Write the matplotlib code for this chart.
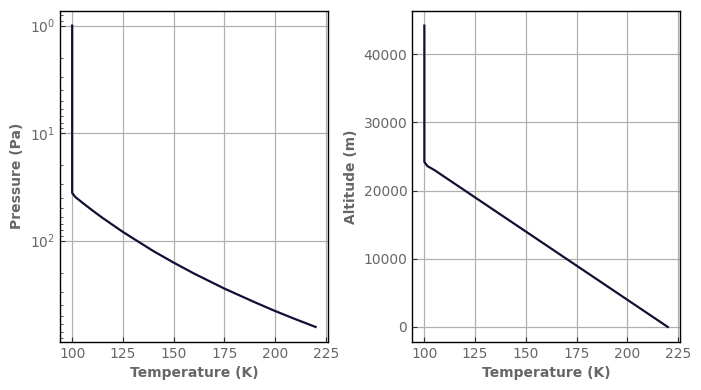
import matplotlib
matplotlib.use("Agg")
import matplotlib.pyplot as plt

# Values
temperature = [220, 210, 200, 190, 175, 160, 150, 140, 125, 115, 110, 105, 101.5,
               100, 100, 100]
pressure = [635, 537, 451, 374, 279, 202, 160, 125, 83, 61.5, 52.4, 44.3, 39.2,
            36, 6.3, 1.0]
altitude = [0, 2000, 4000, 6000, 9000, 12000, 14000, 16000, 19000, 21000, 22000,
            23000, 23600, 24200, 34000, 44200]

LINE = "#140d35"
TEXT = "#666666"

fig = plt.figure(figsize=(7.01, 3.90), dpi=100)
ax1 = fig.add_axes([0.0856, 0.123, 0.382, 0.850])
ax2 = fig.add_axes([0.5880, 0.123, 0.382, 0.850])

ax1.plot(temperature, pressure, color=LINE, lw=1.6)
ax1.set_yscale("log")
ax1.invert_yaxis()
ax1.set_ylabel("Pressure (Pa)", color=TEXT, fontweight="bold", fontsize=10)

ax2.plot(temperature, altitude, color=LINE, lw=1.6)
ax2.set_ylabel("Altitude (m)", color=TEXT, fontweight="bold", fontsize=10)

for ax in (ax1, ax2):
    ax.set_xlabel("Temperature (K)", color=TEXT, fontweight="bold", fontsize=10)
    ax.set_xticks([100, 125, 150, 175, 200, 225])
    ax.grid(True, color="#b0b0b0", lw=0.9)
    ax.set_axisbelow(True)
    ax.tick_params(which="both", direction="in", labelcolor=TEXT, labelsize=10, color="#333333")
    for sp in ax.spines.values():
        sp.set_color("black")
        sp.set_linewidth(1.0)

fig.savefig("out.png", dpi=100)
